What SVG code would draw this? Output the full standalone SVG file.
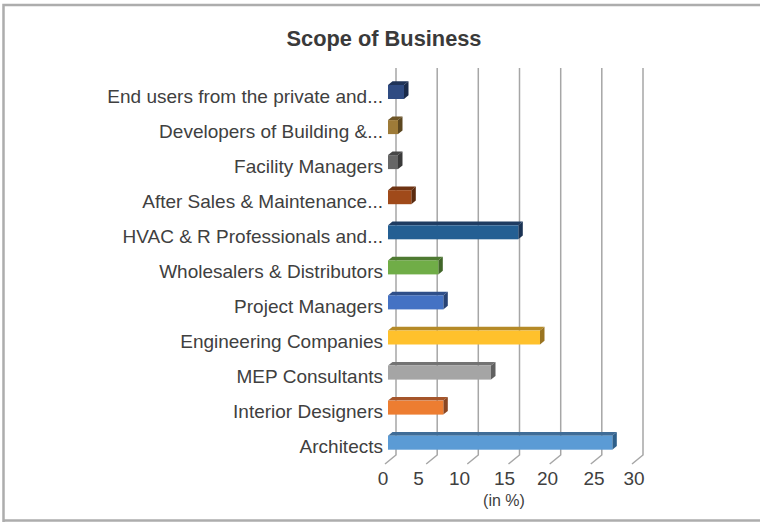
<svg xmlns="http://www.w3.org/2000/svg" width="760" height="522" viewBox="0 0 760 522">
<style>
.lbl{font-family:"Liberation Sans",Arial,sans-serif;font-size:19px;fill:#404040;text-anchor:end}
.tick{font-family:"Liberation Sans",Arial,sans-serif;font-size:19px;fill:#404040;text-anchor:middle}
.title{font-family:"Liberation Sans",Arial,sans-serif;font-size:21.8px;font-weight:bold;fill:#3a3a3a;text-anchor:middle}
.grid{stroke:#a6a6a6;stroke-width:1.5;fill:none}
</style>
<rect x="0" y="0" width="760" height="522" fill="#ffffff"/>
<path d="M3.5,522 V5 H760 M3.5,520.5 H760" fill="none" stroke="#adadad" stroke-width="2.5"/>
<text class="title" x="384" y="45.5">Scope of Business</text>
<g id="gridlines" class="grid">
<path d="M396,68 V455 L385,464"/>
<path d="M437.2,68 V455 L426.2,464"/>
<path d="M478.3,68 V455 L467.3,464"/>
<path d="M519.5,68 V455 L508.5,464"/>
<path d="M560.7,68 V455 L549.7,464"/>
<path d="M601.8,68 V455 L590.8,464"/>
<path d="M643,68 V455 L632,464"/>
</g>
<g id="axis-labels">
<text class="tick" x="383" y="485">0</text>
<text class="tick" x="418.5" y="485">5</text>
<text class="tick" x="459.5" y="485">10</text>
<text class="tick" x="504.5" y="485">15</text>
<text class="tick" x="547.5" y="485">20</text>
<text class="tick" x="594" y="485">25</text>
<text class="tick" x="634" y="485">30</text>
<text class="tick" x="504" y="506" style="font-size:16px">(in %)</text>
</g>
<g id="bar-end-users">
<text class="lbl" x="383" y="102.5">End users from the private and...</text>
<polygon points="388,85 392.5,81.3 408.5,81.3 404,85" fill="#1f3358"/>
<polygon points="404,85 408.5,81.3 408.5,95.3 404,99" fill="#1a2b4a"/>
<rect x="388" y="85" width="16" height="14" fill="#2f4b82"/>
</g>
<g id="bar-developers">
<text class="lbl" x="383" y="137.6">Developers of Building &amp;...</text>
<polygon points="388,120.1 392.5,116.4 402.5,116.4 398,120.1" fill="#6e5526"/>
<polygon points="398,120.1 402.5,116.4 402.5,130.4 398,134.1" fill="#5c4720"/>
<rect x="388" y="120.1" width="10" height="14" fill="#9e7b38"/>
</g>
<g id="bar-facility">
<text class="lbl" x="383" y="172.6">Facility Managers</text>
<polygon points="388,155.1 392.5,151.4 402.5,151.4 398,155.1" fill="#474747"/>
<polygon points="398,155.1 402.5,151.4 402.5,165.4 398,169.1" fill="#3a3a3a"/>
<rect x="388" y="155.1" width="10" height="14" fill="#666666"/>
</g>
<g id="bar-after-sales">
<text class="lbl" x="383" y="207.7">After Sales &amp; Maintenance...</text>
<polygon points="388,190.2 392.5,186.5 415.8,186.5 411.3,190.2" fill="#6e3312"/>
<polygon points="411.3,190.2 415.8,186.5 415.8,200.5 411.3,204.2" fill="#5a2a0f"/>
<rect x="388" y="190.2" width="23.3" height="14" fill="#a04a1a"/>
</g>
<g id="bar-hvac">
<text class="lbl" x="383" y="242.8">HVAC &amp; R Professionals and...</text>
<polygon points="388,225.3 392.5,221.6 522.8,221.6 518.3,225.3" fill="#1f3c62"/>
<polygon points="518.3,225.3 522.8,221.6 522.8,235.6 518.3,239.3" fill="#1a3354"/>
<rect x="388" y="225.3" width="130.3" height="14" fill="#245f93"/>
</g>
<g id="bar-wholesalers">
<text class="lbl" x="383" y="277.9">Wholesalers &amp; Distributors</text>
<polygon points="388,260.4 392.5,256.7 442.8,256.7 438.3,260.4" fill="#4e7a31"/>
<polygon points="438.3,260.4 442.8,256.7 442.8,270.7 438.3,274.4" fill="#416629"/>
<rect x="388" y="260.4" width="50.3" height="14" fill="#70ad47"/>
</g>
<g id="bar-project-managers">
<text class="lbl" x="383" y="312.9">Project Managers</text>
<polygon points="388,295.4 392.5,291.7 447.8,291.7 443.3,295.4" fill="#2f4f8a"/>
<polygon points="443.3,295.4 447.8,291.7 447.8,305.7 443.3,309.4" fill="#284374"/>
<rect x="388" y="295.4" width="55.3" height="14" fill="#4472c4"/>
</g>
<g id="bar-engineering">
<text class="lbl" x="383" y="348">Engineering Companies</text>
<polygon points="388,330.5 392.5,326.8 544.5,326.8 540,330.5" fill="#b58a27"/>
<polygon points="540,330.5 544.5,326.8 544.5,340.8 540,344.5" fill="#9a7420"/>
<rect x="388" y="330.5" width="152" height="14" fill="#ffc12c"/>
</g>
<g id="bar-mep">
<text class="lbl" x="383" y="383.1">MEP Consultants</text>
<polygon points="388,365.6 392.5,361.9 495.5,361.9 491,365.6" fill="#737373"/>
<polygon points="491,365.6 495.5,361.9 495.5,375.9 491,379.6" fill="#606060"/>
<rect x="388" y="365.6" width="103" height="14" fill="#a5a5a5"/>
</g>
<g id="bar-interior">
<text class="lbl" x="383" y="418.1">Interior Designers</text>
<polygon points="388,400.6 392.5,396.9 447.8,396.9 443.3,400.6" fill="#a5552a"/>
<polygon points="443.3,400.6 447.8,396.9 447.8,410.9 443.3,414.6" fill="#8a4622"/>
<rect x="388" y="400.6" width="55.3" height="14" fill="#ed7d31"/>
</g>
<g id="bar-architects">
<text class="lbl" x="383" y="453.2">Architects</text>
<polygon points="388,435.7 392.5,432 616.8,432 612.3,435.7" fill="#3f6c97"/>
<polygon points="612.3,435.7 616.8,432 616.8,446 612.3,449.7" fill="#2e5f8a"/>
<rect x="388" y="435.7" width="224.3" height="14" fill="#5b9bd5"/>
</g>
</svg>
